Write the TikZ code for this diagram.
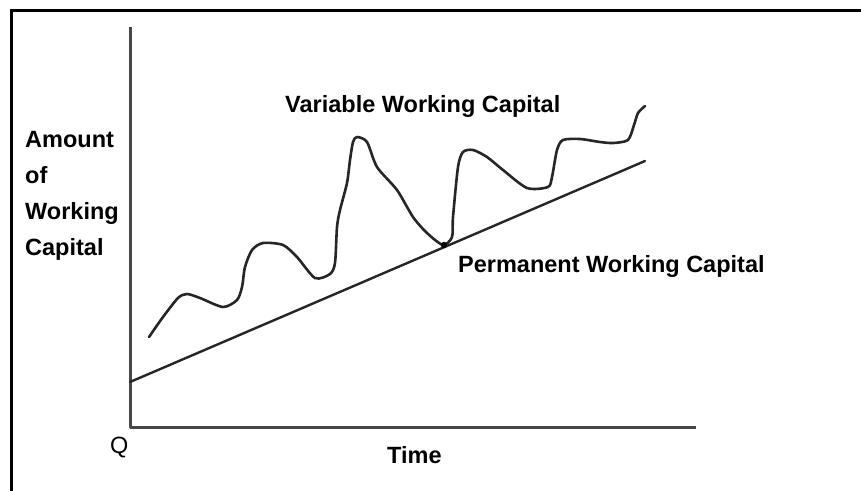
\documentclass[tikz,border=0pt]{standalone}
\usepackage{fontspec}
\setmainfont{Liberation Sans}
\begin{document}
\begin{tikzpicture}[x=1pt,y=-1pt,
  lbl/.style={font=\fontsize{23.5}{28}\selectfont\bfseries, inner sep=0pt, anchor=base west},
  plainlbl/.style={font=\fontsize{23.5}{28}\selectfont, inner sep=0pt, anchor=base west},
  axisline/.style={draw=black!72, line width=3pt, line join=round},
  curveline/.style={draw=black!85, line width=2.6pt, line join=round, line cap=round},
  frameline/.style={draw=black, line width=3pt}]
\useasboundingbox (0,0) rectangle (861,490);
% frame (open at right and bottom)
\coordinate (fbl) at (11,491);
\coordinate (ftl) at (11,10);
\coordinate (ftr) at (862,10);
\draw[frameline] (fbl) -- (ftl) -- (ftr);
% axes
\coordinate (ytop) at (130,27);
\coordinate (O) at (130,427);
\coordinate (xend) at (696,427);
\draw[axisline] (ytop) -- (O) -- (xend);
% permanent working capital line
\coordinate (pstart) at (130,382);
\coordinate (pend) at (645,161);
\draw[curveline, line width=2.4pt] (pstart) -- (pend);
% variable working capital curve
\draw[curveline] plot[smooth, tension=0.45] coordinates {
 (149,337) (163,317) (178,298) (187,294) (200,298) (223,307) (237,300)
 (242,287) (245,267) (252,250) (263,243) (283,245) (297,257) (315,278)
 (330,274) (335,263) (337,227) (340,210) (347,183) (350,160) (353,142)
 (357,137) (367,142) (377,167) (397,190) (413,217) (427,233) (443,245)
 (452,237) (453,217) (458,167) (463,152) (473,150) (487,157) (503,170)
 (527,188) (548,187) (552,177) (557,150) (563,140) (580,139) (600,142)
 (613,143) (628,140) (634,125) (638,113) (645,106)};
\coordinate (touch) at (444,245);
\fill[black] (touch) circle (3.2);
% labels
\node[lbl] (var) at (285,112) {Variable Working Capital};
\node[lbl] (perm) at (458,272) {Permanent Working Capital};
\node[lbl] (amt1) at (25,147) {Amount};
\node[lbl] (amt2) at (25,183) {of};
\node[lbl] (amt3) at (25,219) {Working};
\node[lbl] (amt4) at (25,255) {Capital};
\node[plainlbl] (q) at (110,453) {Q};
\node[lbl] (time) at (387,463) {Time};
\end{tikzpicture}
\end{document}
